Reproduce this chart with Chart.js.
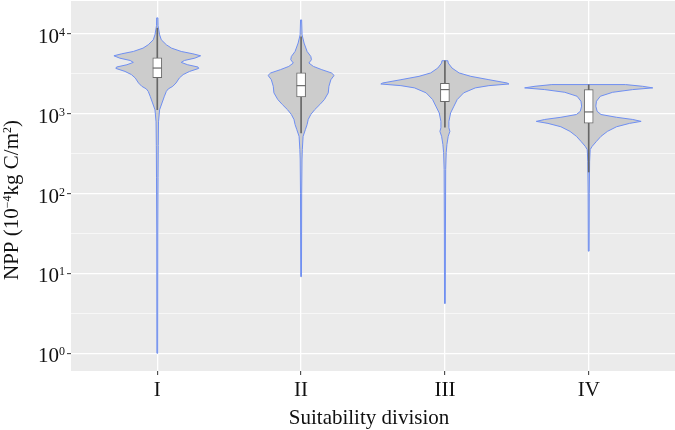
<!DOCTYPE html>
<html>
<head>
<meta charset="utf-8">
<script src="https://cdn.jsdelivr.net/npm/chart.js@4.4.1/dist/chart.umd.min.js"></script>
<style>
  html, body { margin: 0; padding: 0; background: #fff; }
  #wrap { width: 675px; height: 430px; }
</style>
</head>
<body>
<div id="wrap"><canvas id="npp-chart" width="675" height="430"></canvas></div>
<script>
// Categories and box-plot statistics (NPP, 10^-4 kg C/m2)
const categories = ['I', 'II', 'III', 'IV'];
const lowerWhisker = [1120, 575, 675, 186];
const quartile1 = [2820, 1620, 1410, 760];
const medians = [3720, 2240, 2000, 1050];
const quartile3 = [5010, 3240, 2400, 2000];
const upperWhisker = [11750, 9120, 4570, 2290];

// Violin outlines: NPP levels (top to bottom) and relative density (1 = widest violin)
const violinNppI = [15800, 12600, 9700, 8400, 7280, 6610, 6000, 5610, 5300, 4950, 4630, 4380, 4090, 3830, 3680, 3380, 3080, 2790, 2420, 2200, 2040, 1900, 1650, 1360, 1120, 790, 400, 160, 32, 1];
const violinDensityI = [0.01, 0.012, 0.036, 0.062, 0.14, 0.22, 0.37, 0.55, 0.67, 0.58, 0.42, 0.37, 0.47, 0.63, 0.64, 0.5, 0.4, 0.34, 0.29, 0.24, 0.17, 0.14, 0.11, 0.073, 0.036, 0.019, 0.015, 0.012, 0.008, 0.006];

const violinNppII = [14900, 9700, 7640, 6000, 5200, 4730, 4300, 3900, 3550, 3230, 3010, 2660, 2200, 1820, 1500, 1300, 1120, 975, 845, 730, 630, 520, 355, 270, 100, 9.1];
const violinDensityII = [0.008, 0.015, 0.046, 0.093, 0.15, 0.16, 0.12, 0.19, 0.32, 0.47, 0.51, 0.46, 0.43, 0.42, 0.36, 0.29, 0.21, 0.15, 0.11, 0.093, 0.066, 0.031, 0.019, 0.014, 0.009, 0.006];

const violinNppIII = [4590, 4300, 3720, 3230, 2930, 2660, 2420, 2350, 2240, 2100, 1820, 1500, 1240, 1020, 800, 665, 600, 520, 410, 325, 200, 32, 4.2];
const violinDensityIII = [0.046, 0.051, 0.11, 0.22, 0.40, 0.68, 0.96, 0.99, 0.68, 0.47, 0.29, 0.19, 0.14, 0.088, 0.062, 0.062, 0.077, 0.051, 0.031, 0.02, 0.012, 0.008, 0.006];

const violinNppIV = [2310, 2200, 2100, 2000, 1850, 1650, 1430, 1240, 1070, 975, 900, 845, 800, 755, 685, 600, 520, 450, 390, 355, 250, 100, 19];
const violinDensityIV = [0.57, 0.83, 0.99, 0.68, 0.37, 0.18, 0.12, 0.11, 0.13, 0.19, 0.43, 0.68, 0.81, 0.63, 0.43, 0.29, 0.19, 0.12, 0.054, 0.023, 0.014, 0.009, 0.006];

// y axis: powers of ten that get a label
const yTickPowers = [0, 1, 2, 3, 4];
const yMin = 0.63;
const yMax = 25700;

const violinNpp = [violinNppI, violinNppII, violinNppIII, violinNppIV];
const violinDensity = [violinDensityI, violinDensityII, violinDensityIII, violinDensityIV];

const FONT = '"Liberation Serif", "Times New Roman", serif';
const TEXT_COLOR = '#111111';

// major ticks at 10^k, minor gridlines half way (in log space)
const gridValues = [];
yTickPowers.forEach(p => {
    gridValues.push(Math.pow(10, p));
    const minor = Math.pow(10, p + 0.5);
    if (minor <= yMax) gridValues.push(minor);
});
const isMajor = v => Math.abs(Math.log10(v) - Math.round(Math.log10(v))) < 1e-6;

// Draw text with superscript pieces, left to right from x on baseline y
function drawRich(ctx, parts, x, y, size, supSize) {
    let cx = x;
    parts.forEach(part => {
        ctx.font = `${part.sup ? supSize : size}px ${FONT}`;
        ctx.fillText(part.t, cx, part.sup ? y - 7 : y);
        cx += ctx.measureText(part.t).width;
    });
    return cx - x;
}
function richWidth(ctx, parts, size, supSize) {
    let w = 0;
    parts.forEach(part => {
        ctx.font = `${part.sup ? supSize : size}px ${FONT}`;
        w += ctx.measureText(part.t).width;
    });
    return w;
}

const violinPlugin = {
    id: 'violins',
    beforeDraw(chart) {
        const { ctx, chartArea: a } = chart;
        ctx.save();
        ctx.fillStyle = '#EBEBEB';
        ctx.fillRect(a.left, a.top, a.right - a.left, a.bottom - a.top);
        ctx.restore();
    },
    beforeDatasetsDraw(chart) {
        const { ctx, chartArea: a } = chart;
        const xs = chart.scales.x, ys = chart.scales.y;
        const unit = xs.getPixelForValue(2) - xs.getPixelForValue(1);
        ctx.save();
        ctx.beginPath();
        ctx.rect(a.left, a.top, a.right - a.left, a.bottom - a.top);
        ctx.clip();
        categories.forEach((cat, i) => {
            const cx = xs.getPixelForValue(i + 1);
            const npp = violinNpp[i], dens = violinDensity[i];
            ctx.beginPath();
            for (let k = 0; k < npp.length; k++) {
                const px = cx + dens[k] * 0.45 * unit;
                const py = ys.getPixelForValue(npp[k]);
                if (k === 0) ctx.moveTo(px, py); else ctx.lineTo(px, py);
            }
            for (let k = npp.length - 1; k >= 0; k--) {
                ctx.lineTo(cx - dens[k] * 0.45 * unit, ys.getPixelForValue(npp[k]));
            }
            ctx.closePath();
            ctx.fillStyle = '#CCCCCC';
            ctx.fill();
            ctx.strokeStyle = '#6F8FF2';
            ctx.lineWidth = 1;
            ctx.lineJoin = 'round';
            ctx.stroke();
        });
        ctx.restore();
    },
    afterDraw(chart) {
        const { ctx, chartArea: a } = chart;
        const xs = chart.scales.x, ys = chart.scales.y;
        ctx.save();
        ctx.fillStyle = TEXT_COLOR;
        ctx.textBaseline = 'alphabetic';
        ctx.textAlign = 'left';

        // y tick labels 10^k
        yTickPowers.forEach(p => {
            const py = ys.getPixelForValue(Math.pow(10, p));
            const parts = [{ t: '10' }, { t: String(p), sup: true }];
            const w = richWidth(ctx, parts, 21, 12);
            drawRich(ctx, parts, a.left - 6 - w, py + 9, 21, 12);
        });

        // x tick labels
        ctx.textAlign = 'center';
        ctx.font = `21px ${FONT}`;
        categories.forEach((cat, i) => {
            ctx.fillText(cat, xs.getPixelForValue(i + 1), a.bottom + 25);
        });

        // x title
        ctx.fillText('Suitability division', (a.left + a.right) / 2 - 4, a.bottom + 53);

        // y title, rotated
        ctx.textAlign = 'left';
        const title = [{ t: 'NPP (10' }, { t: '\u22124', sup: true }, { t: 'kg C/m' }, { t: '2', sup: true }, { t: ')' }];
        const tw = richWidth(ctx, title, 21, 12);
        ctx.translate(17.5, 200);
        ctx.rotate(-Math.PI / 2);
        drawRich(ctx, title, -tw / 2, 0, 21, 12);
        ctx.restore();
    }
};

const ctx = document.getElementById('npp-chart').getContext('2d');

new Chart(ctx, {
    type: 'bar',
    data: {
        datasets: [
            {
                label: 'Whiskers',
                data: categories.map((c, i) => ({ x: i + 1, y: [lowerWhisker[i], upperWhisker[i]] })),
                backgroundColor: '#666666',
                borderWidth: 0,
                barThickness: 1,
                grouped: false,
                order: 3
            },
            {
                label: 'Boxes',
                data: categories.map((c, i) => ({ x: i + 1, y: [quartile1[i], quartile3[i]] })),
                backgroundColor: '#FFFFFF',
                borderColor: '#6A6A6A',
                borderWidth: 1,
                borderSkipped: false,
                barThickness: 9,
                grouped: false,
                order: 2
            },
            {
                type: 'line',
                label: 'Median',
                data: categories.map((c, i) => ({ x: i + 1, y: medians[i] })),
                showLine: false,
                pointStyle: 'line',
                pointRadius: 4.5,
                pointBorderColor: '#6A6A6A',
                pointBorderWidth: 1.2,
                order: 1
            }
        ]
    },
    options: {
        responsive: false,
        animation: false,
        devicePixelRatio: 1,
        events: [],
        layout: { autoPadding: false, padding: { top: 1, right: 0, bottom: 0, left: 0 } },
        plugins: {
            legend: { display: false },
            tooltip: { enabled: false }
        },
        scales: {
            x: {
                type: 'linear',
                min: 0.4,
                max: 4.6,
                offset: false,
                afterBuildTicks: s => { s.ticks = categories.map((c, i) => ({ value: i + 1 })); },
                afterFit: s => { s.height = 59; },
                ticks: { display: false },
                grid: { offset: false, color: '#FFFFFF', lineWidth: 1.3, tickColor: '#333333', tickLength: 4, tickWidth: 1 },
                border: { display: false }
            },
            y: {
                type: 'logarithmic',
                min: yMin,
                max: yMax,
                afterBuildTicks: s => { s.ticks = gridValues.map(v => ({ value: v })); },
                afterFit: s => { s.width = 71; },
                ticks: { display: false },
                grid: {
                    color: '#FFFFFF',
                    lineWidth: c => (c.tick && isMajor(c.tick.value)) ? 1.3 : 0.6,
                    tickColor: c => (c.tick && isMajor(c.tick.value)) ? '#333333' : 'rgba(0,0,0,0)',
                    tickLength: 4,
                    tickWidth: 1
                },
                border: { display: false }
            }
        }
    },
    plugins: [violinPlugin]
});
</script>
</body>
</html>
